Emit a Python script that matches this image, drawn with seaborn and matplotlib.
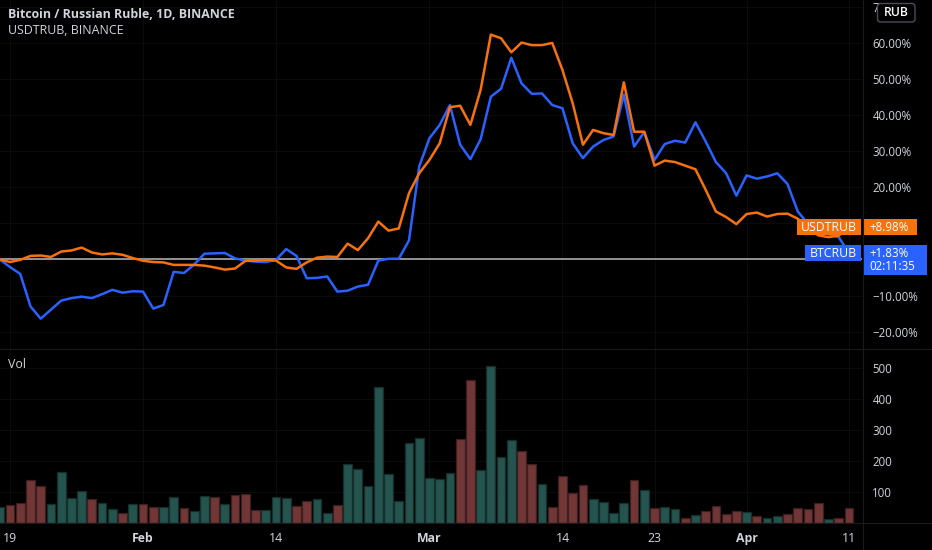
import numpy as np
import pandas as pd
import matplotlib
matplotlib.use("Agg")
import matplotlib.pyplot as plt
from matplotlib.patches import Rectangle, FancyBboxPatch
import seaborn as sns

# ---------------- data ----------------
dates = pd.date_range("2022-01-18", "2022-04-11", freq="D")

btcrub_pct = [0, -2.1, -4.0, -13.0, -16.4, -13.9, -11.4, -10.7, -10.3, -10.7,
              -9.6, -8.4, -9.2, -8.8, -8.9, -13.6, -12.6, -3.4, -3.75, -1.4,
              1.6, 1.7, 1.8, 0.3, -0.3, -0.6, -0.7, -0.1, 2.9, 1.0,
              -5.2, -5.1, -4.7, -8.9, -8.65, -7.5, -7.0, -0.3, 0.2, 0.2,
              5.3, 25.8, 33.6, 37.3, 42.8, 31.8, 27.8, 33.3, 45.1, 47.3,
              55.9, 48.8, 45.9, 46.0, 42.8, 41.9, 32.2, 28.1, 31.3, 33.1,
              34.1, 45.7, 31.3, 35.3, 27.6, 32.0, 32.9, 32.4, 38.0, 32.7,
              27.0, 23.9, 17.7, 23.3, 22.4, 23.0, 23.9, 20.9, 13.3, 9.9,
              8.0, 7.0, 6.2, 1.83]

usdtrub_pct = [0, -0.7, -0.1, 1.0, 1.1, 0.7, 2.2, 2.5, 3.3, 1.95,
               1.4, 1.7, 1.3, 0.4, -0.35, -0.7, -0.8, -1.5, -1.5, -1.5,
               -1.7, -2.2, -2.8, -2.5, -0.4, -0.3, -0.1, -0.3, -2.2, -2.6,
               -0.8, 0.5, 0.8, 0.7, 4.4, 2.6, 5.9, 10.5, 8.0, 8.6,
               18.4, 23.9, 27.6, 32.2, 42.2, 42.6, 37.3, 47.0, 62.3, 61.3,
               57.4, 60.1, 59.4, 59.4, 60.0, 52.5, 43.3, 31.8, 35.9, 35.0,
               34.5, 49.1, 35.4, 35.4, 26.0, 27.4, 27.0, 26.0, 25.0, 19.3,
               13.3, 11.75, 9.8, 12.6, 13.0, 11.9, 12.6, 12.7, 11.3, 8.8,
               6.7, 6.2, 6.6, 8.98]

volume = [49, 56, 64, 138, 119, 60, 165, 80, 102, 76,
          62, 43, 32, 60, 60, 51, 49, 83, 46, 36,
          86, 83, 60, 88, 92, 40, 40, 83, 80, 53,
          70, 76, 32, 57, 188, 173, 119, 438, 157, 70,
          257, 275, 145, 141, 160, 270, 463, 171, 507, 212,
          268, 230, 191, 124, 50, 151, 94, 122, 75, 68,
          31, 64, 139, 106, 48, 51, 44, 14, 23, 38,
          54, 28, 38, 35, 21, 15, 21, 29, 46, 44,
          64, 11, 14, 46]

# T = up (teal), R = down (red)
vol_dir = list("TRRRRTTTTR" "TTRTRRTTRT" "TRTRRRTTTR" "RTTRTTTTTT"
               "TTTTTRRTTT" "TRRTRRRRTT" "TTRTRTTRTR" "RRRTRTTRRR" "RTRR")

xtick_pos = [1, 14, 27, 42, 55, 64, 73, 83]
xtick_labels = ["19", "Feb", "14", "Mar", "14", "23", "Apr", "11"]
xtick_bold = [False, True, False, True, False, False, True, False]

grid_ticks = [70, 60, 50, 40, 30, 20, 10, 0, -10, -20]
price_label_ticks = [70, 60, 50, 40, 30, 20, -10, -20]   # 10% / 0% hidden under the last-value tags
vol_ticks = [100, 200, 300, 400, 500]

title1 = "Bitcoin / Russian Ruble, 1D, BINANCE"
title2 = "USDTRUB, BINANCE"
last_btc_text = "+1.83%"
last_usd_text = "+8.98%"
countdown = "02:11:35"

# ---------------- style ----------------
BG = "#000000"
TXT = "#d1d4dc"
GRID = "#0b0b0b"
SEP = "#1a1a1a"
BLUE = "#2962ff"
ORANGE = "#f7720c"
TEAL = "#1d5b54"
RED = "#7b2c2c"
FS = 8.3

sns.set_theme(style="dark", rc={
    "figure.facecolor": BG, "axes.facecolor": BG, "savefig.facecolor": BG,
    "axes.edgecolor": BG, "text.color": TXT, "xtick.color": TXT, "ytick.color": TXT,
})
FONT = ["Open Sans", "DejaVu Sans"]
plt.rcParams["font.family"] = FONT

W, H = 932, 550
fig = plt.figure(figsize=(W / 100, H / 100), dpi=100)

def frac(x0, y0, x1, y1):
    return [x0 / W, 1 - y1 / H, (x1 - x0) / W, (y1 - y0) / H]

PLOT_R = 862
ax = fig.add_axes(frac(0, 0, PLOT_R, 349))
axv = fig.add_axes(frac(0, 349, PLOT_R, 522.5))

idx = np.arange(len(dates))
df = pd.DataFrame({"idx": idx, "btc": btcrub_pct, "usd": usdtrub_pct,
                   "vol": volume, "dir": vol_dir})

x_left, x_right = 0.02, 84.28

# ---- main pane ----
for t in grid_ticks:
    ax.axhline(t, color=GRID, lw=0.8, zorder=0)
for p in xtick_pos:
    ax.axvline(p, color=GRID, lw=0.8, zorder=0)
ax.axhline(0, color="#9e9e9e", lw=1.3, zorder=1)
sns.lineplot(data=df, x="idx", y="btc", ax=ax, color=BLUE, lw=1.8, zorder=3)
sns.lineplot(data=df, x="idx", y="usd", ax=ax, color=ORANGE, lw=1.8, zorder=3)
ax.set_xlim(x_left, x_right)
ax.set_ylim(-24.8, 71.9)
ax.set_xlabel("")
ax.set_ylabel("")
ax.set_xticks([])
ax.yaxis.tick_right()
ax.set_yticks(price_label_ticks)
ax.set_yticklabels([f"{t:.2f}%".replace("-", "\u2212") for t in price_label_ticks],
                   fontsize=FS, color=TXT)
ax.tick_params(axis="y", length=0, pad=7.5)
for s in ax.spines.values():
    s.set_visible(False)
ax.grid(False)

# ---- volume pane ----
for t in vol_ticks:
    axv.axhline(t, color=GRID, lw=0.8, zorder=0)
for p in xtick_pos:
    axv.axvline(p, color=GRID, lw=0.8, zorder=0)
sns.barplot(data=df, x="idx", y="vol", hue="dir", palette={"T": TEAL, "R": RED},
            dodge=False, native_scale=True, width=0.86, legend=False, ax=axv,
            zorder=2)
for patch in axv.patches:
    fc = patch.get_facecolor()
    patch.set_edgecolor((fc[0] * 0.55, fc[1] * 0.55, fc[2] * 0.55, 1))
    patch.set_linewidth(0.9)
axv.set_xlim(x_left, x_right)
axv.set_ylim(0, 562)
axv.set_xlabel("")
axv.set_ylabel("")
axv.yaxis.tick_right()
axv.set_yticks(vol_ticks)
axv.set_yticklabels([str(t) for t in vol_ticks], fontsize=FS, color=TXT)
axv.tick_params(axis="y", length=0, pad=7.5)
axv.set_xticks(xtick_pos)
axv.set_xticklabels(xtick_labels, fontsize=8.8, color=TXT)
for lab, b in zip(axv.get_xticklabels(), xtick_bold):
    lab.set_fontweight("bold" if b else "normal")
axv.tick_params(axis="x", length=0, pad=7)
for s in axv.spines.values():
    s.set_visible(False)
axv.grid(False)

# ---- overlay (pixel coordinates) ----
ov = fig.add_axes([0, 0, 1, 1], zorder=10)
ov.set_xlim(0, W)
ov.set_ylim(H, 0)
ov.axis("off")
ov.patch.set_alpha(0)

ov.plot([0, W], [349, 349], color=SEP, lw=0.8)
ov.plot([0, W], [523, 523], color=SEP, lw=0.8)
ov.plot([PLOT_R + 0.5, PLOT_R + 0.5], [0, H], color=SEP, lw=0.8)

def ypix(val):
    return H - ax.transData.transform((0, val))[1]

y_usd = ypix(usdtrub_pct[-1])
y_btc = ypix(btcrub_pct[-1])

# USDTRUB tags
ov.add_patch(Rectangle((797, y_usd - 8.2), 64, 16.4, color=ORANGE, lw=0))
ov.text(829, y_usd + 0.5, "USDTRUB", color="white", fontsize=8.8, ha="center", va="center")
ov.add_patch(Rectangle((862.5, y_usd - 8.2), 54.5, 16.4, color=ORANGE, lw=0))
ov.text(869, y_usd + 0.5, last_usd_text, color="white", fontsize=FS, ha="left", va="center")

# BTCRUB tags
ov.add_patch(Rectangle((805, y_btc - 8), 56, 16, color=BLUE, lw=0))
ov.text(833, y_btc + 0.5, "BTCRUB", color="white", fontsize=8.8, ha="center", va="center")
ov.add_patch(Rectangle((862.5, y_btc - 8), 64.5, 30, color=BLUE, lw=0))
ov.text(869, y_btc + 0.5, last_btc_text, color="white", fontsize=FS, ha="left", va="center")
ov.text(869, y_btc + 14, countdown, color="white", fontsize=FS, ha="left", va="center")

# RUB box (covers most of the 70.00% label, as in the reference)
ov.add_patch(FancyBboxPatch((877.5, 3.5), 37.5, 18.5, boxstyle="round,pad=0,rounding_size=3",
                            fc=BG, ec="#4a4d57", lw=1.0))
ov.text(896.2, 13, "RUB", color="white", fontsize=8.8, fontweight="semibold",
        ha="center", va="center")

# titles
ov.text(8, 15, title1, color=TXT, fontsize=8.9, fontweight="bold", ha="left", va="center")
ov.text(8, 31, title2, color=TXT, fontsize=8.9, ha="left", va="center")
ov.text(8, 364, "Vol", color=TXT, fontsize=8.9, ha="left", va="center")

fig.savefig("out.png", dpi=100, facecolor=BG)
